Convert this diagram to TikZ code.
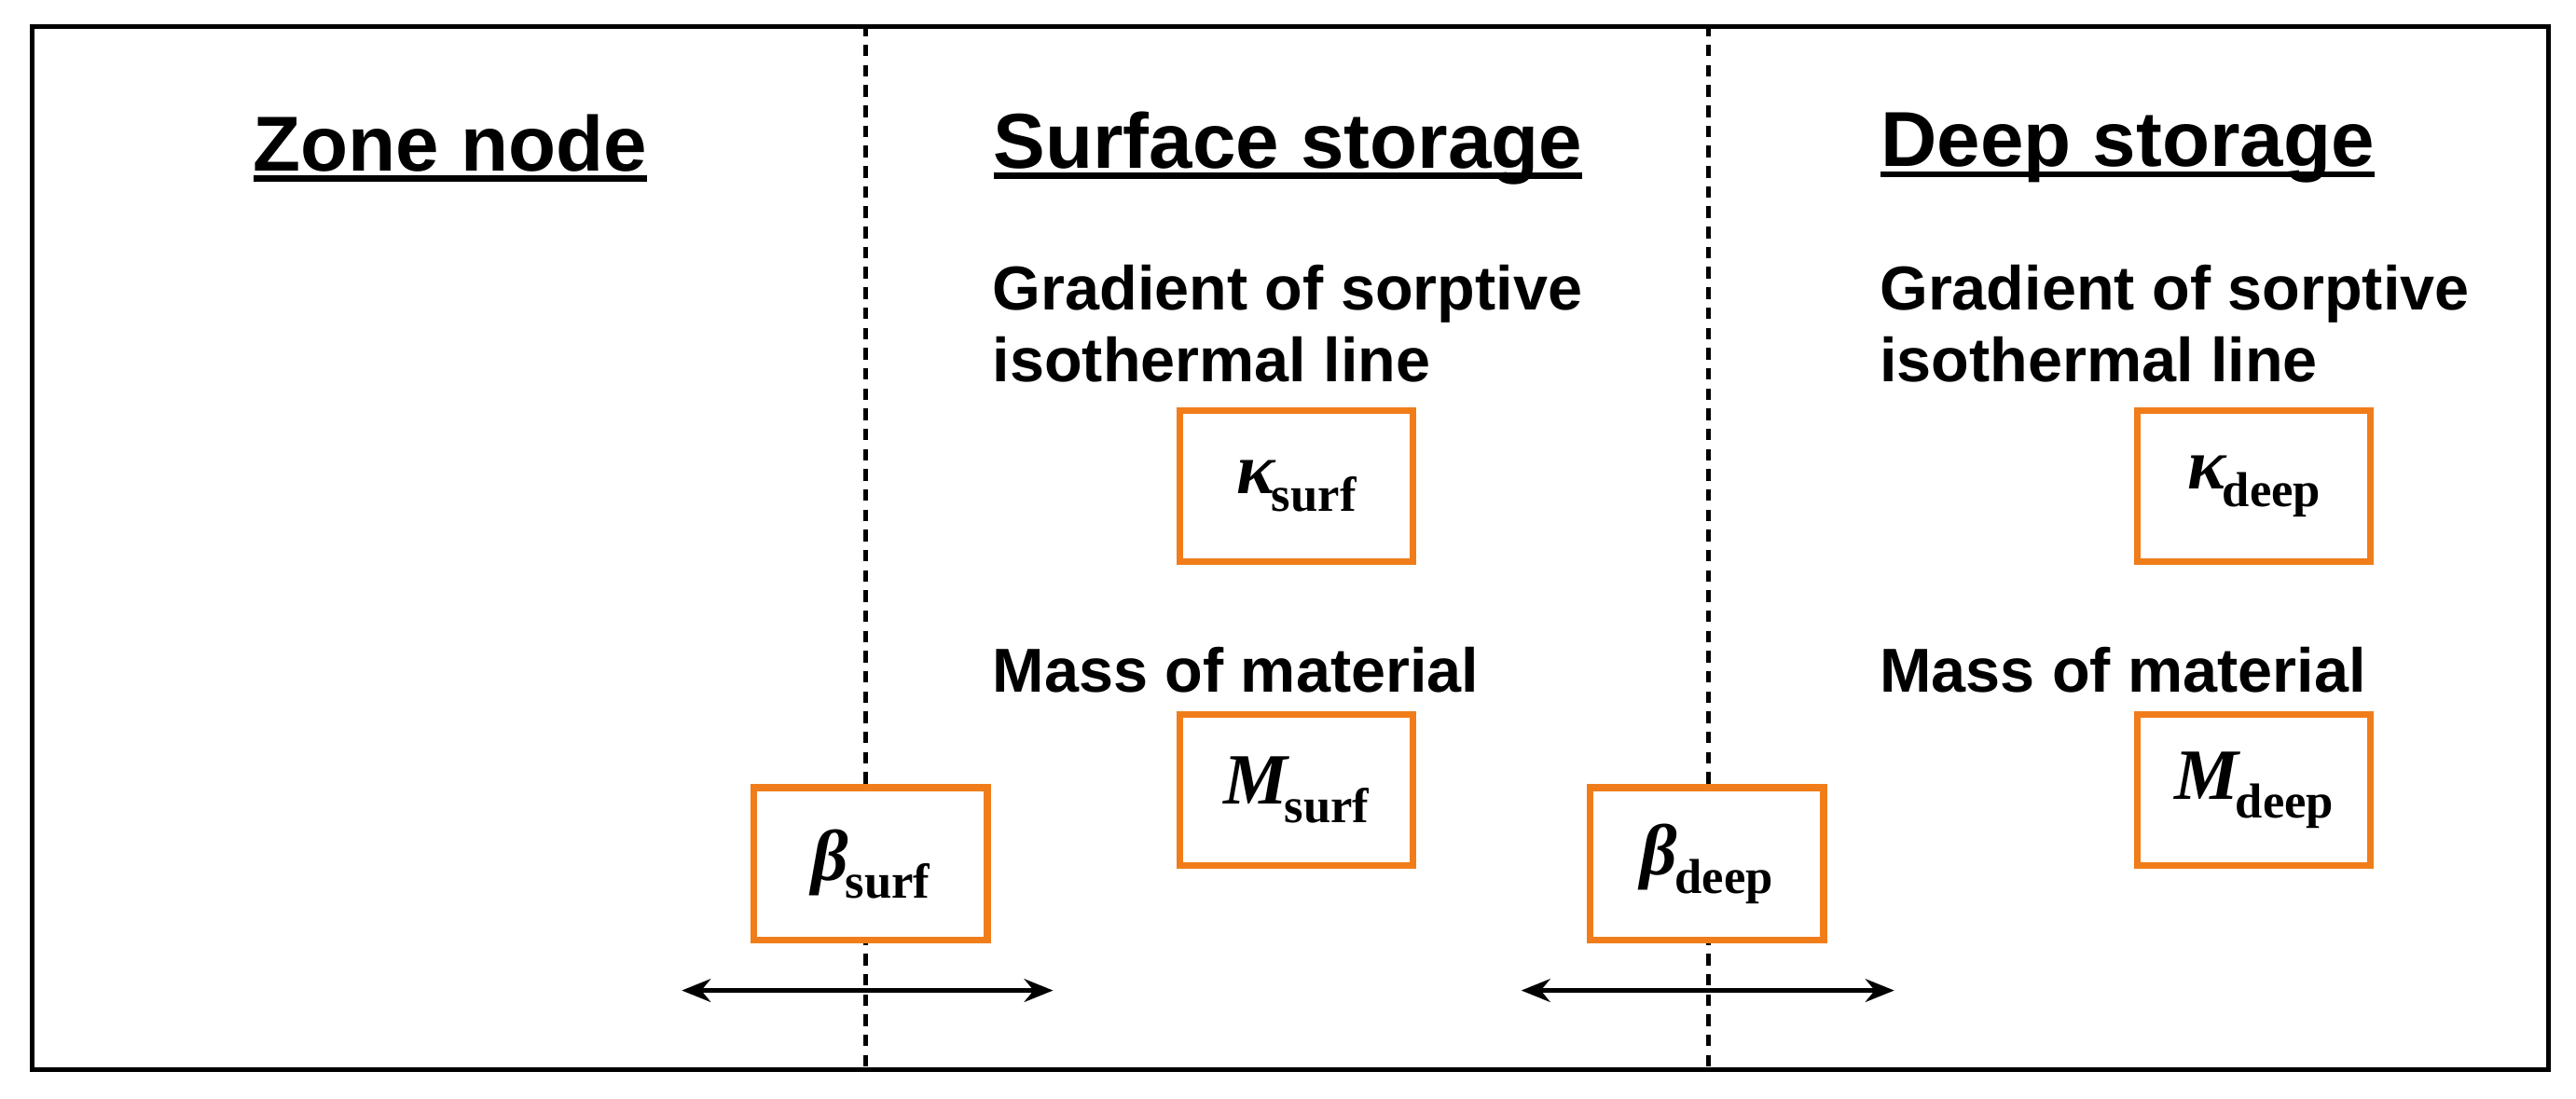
\documentclass[tikz,border=0pt]{standalone}
\usetikzlibrary{arrows.meta}
\usepackage{fontspec}
\setmainfont{Liberation Sans}
\newfontfamily\tms{Liberation Serif}
\newcommand\myul[1]{\setbox0\hbox{#1}\rlap{\rule[-0.14em]{\wd0}{0.075em}}\box0}
\begin{document}
\begin{tikzpicture}[x=0.02cm,y=-0.02cm,
  box/.style={draw={rgb,255:red,240;green,125;blue,26},line width=2.3pt,fill=white},
  head/.style={font=\fontsize{27}{31}\selectfont\bfseries},
  txt/.style={font=\fontsize{21.5}{25}\selectfont\bfseries,anchor=west,align=left},
  sym/.style={font=\fontsize{25}{28}\selectfont\tms\bfseries},
  arr/.style={<->,>={Stealth[length=10pt,width=8pt]},line width=1.5pt}]
\useasboundingbox (0,0) rectangle (1568,669);
\node[draw,line width=1.6pt,minimum width=1532*0.02cm,minimum height=635*0.02cm,anchor=north west] (frame) at (18,15) {};
\coordinate (d1t) at (527,15); \coordinate (d1b) at (527,650);
\coordinate (d2t) at (1040,15); \coordinate (d2b) at (1040,650);
\draw[dash pattern=on 4pt off 3pt,line width=1.7pt] (d1t)--(d1b) (d2t)--(d2b);
\node[head] (h1) at (274,90) {\myul{Zone node}};
\node[head] (h2) at (784,90) {\myul{Surface storage}};
\node[head] (h3) at (1295,90) {\myul{Deep storage}};
\node[txt] (g1) at (598,197) {Gradient of sorptive\\isothermal line};
\node[txt] (g2) at (1138,197) {Gradient of sorptive\\isothermal line};
\node[txt] (m1) at (598,408) {Mass of material};
\node[txt] (m2) at (1138,408) {Mass of material};
\node[box,minimum width=142*0.02cm,minimum height=92*0.02cm] (ks) at (789,296) {};
\node[sym] at (ks) {\itshape κ\kern-1pt\raisebox{-0.25em}{\fontsize{17}{20}\selectfont\upshape surf}};
\node[box,minimum width=142*0.02cm,minimum height=92*0.02cm] (kd) at (1372,296) {};
\node[sym] at (kd) {\itshape κ\kern-1pt\raisebox{-0.25em}{\fontsize{17}{20}\selectfont\upshape deep}};
\node[box,minimum width=142*0.02cm,minimum height=92*0.02cm] (ms) at (789,481) {};
\node[sym] at (ms) {\itshape M\kern-1pt\raisebox{-0.25em}{\fontsize{17}{20}\selectfont\upshape surf}};
\node[box,minimum width=142*0.02cm,minimum height=92*0.02cm] (md) at (1372,481) {};
\node[sym] at (md) {\itshape M\kern-1pt\raisebox{-0.25em}{\fontsize{17}{20}\selectfont\upshape deep}};
\node[box,minimum width=142*0.02cm,minimum height=93*0.02cm] (bs) at (530,526) {};
\node[sym] at (bs) {\itshape β\kern-1pt\raisebox{-0.25em}{\fontsize{17}{20}\selectfont\upshape surf}};
\node[box,minimum width=142*0.02cm,minimum height=93*0.02cm] (bd) at (1039,526) {};
\node[sym] at (bd) {\itshape β\kern-1pt\raisebox{-0.25em}{\fontsize{17}{20}\selectfont\upshape deep}};
\coordinate (a1l) at (415,603); \coordinate (a1r) at (641,603);
\coordinate (a2l) at (926,603); \coordinate (a2r) at (1153,603);
\draw[arr] (a1l)--(a1r);
\draw[arr] (a2l)--(a2r);
\end{tikzpicture}
\end{document}
